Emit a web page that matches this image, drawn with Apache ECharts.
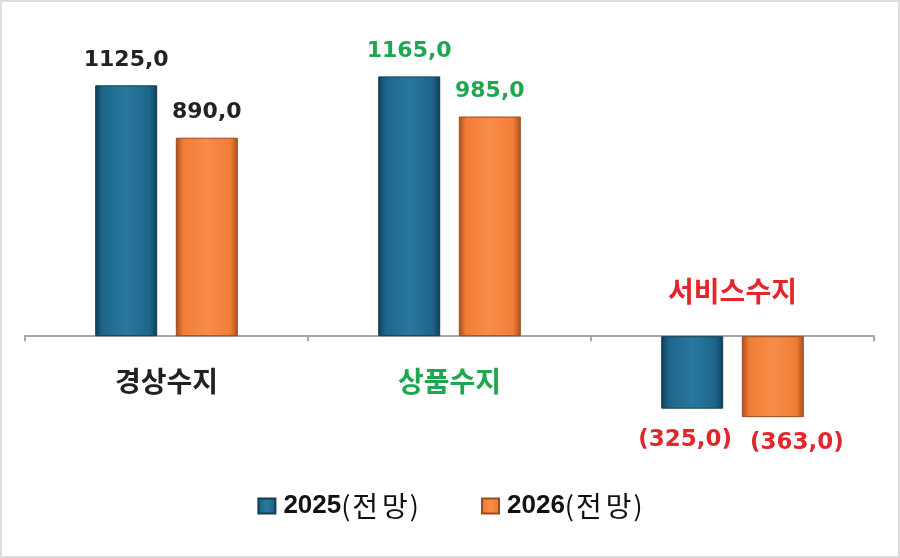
<!DOCTYPE html>
<html>
<head>
<meta charset="utf-8">
<script src="https://cdn.jsdelivr.net/npm/echarts@6/dist/echarts.min.js"></script>
<style>
    body { margin: 0; background: #fff; }
    #chart { width: 900px; height: 558px; }
    #frame { position: absolute; left: 0; top: 0; width: 900px; height: 558px;
             box-sizing: border-box; border: 2px solid #dcdcdc; pointer-events: none; }
</style>
</head>
<body>
<div id="chart"></div>
<div id="frame"></div>
<script>
// Chart data
const categories = ['경상수지', '상품수지', '서비스수지'];
const seriesYears = ['2025', '2026'];
const seriesSuffix = '(전망)';
const values2025 = [1125, 1165, -325];
const values2026 = [890, 985, -363];

const textColors = ['#222222', '#1fa650', '#e3262b'];
const krFont = '"Noto Sans CJK KR", "Noto Sans", sans-serif';
const numFont = '"DejaVu Sans", Verdana, sans-serif';

function fmt(v) {
    const s = Math.abs(v).toFixed(1).replace('.', ',');
    return v < 0 ? '(' + s + ')' : s;
}

function barColor(dark, main, light) {
    return new echarts.graphic.LinearGradient(0, 0, 1, 0, [
        { offset: 0, color: dark },
        { offset: 0.12, color: main },
        { offset: 0.5, color: light },
        { offset: 0.88, color: main },
        { offset: 1, color: dark }
    ]);
}

const rich = {};
textColors.forEach((c, i) => {
    rich['c' + i] = { color: c, fontFamily: numFont, fontSize: i === 2 ? 23 : 22, fontWeight: 'bold' };
});

function buildData(values, negOffset) {
    return values.map(v => ({
        value: v,
        label: v < 0
            ? { position: 'bottom', distance: 16, offset: negOffset }
            : { position: 'top', distance: 14 }
    }));
}

function makeSeries(name, values, color, border, negOffset) {
    return {
        name: name,
        type: 'bar',
        barWidth: 62,
        barGap: '30%',
        data: buildData(values, negOffset),
        itemStyle: { color: color, borderColor: border, borderWidth: 1 },
        label: {
            show: true,
            formatter: p => '{c' + p.dataIndex + '|' + fmt(p.value) + '}',
            rich: rich
        }
    };
}

const seriesNames = seriesYears.map(y => y + seriesSuffix);
const catData = categories.map((c, i) => ({ value: c, textStyle: { color: textColors[i] } }));
const catLabel = {
    fontFamily: krFont,
    fontSize: 28,
    fontWeight: 'bold'
};

// legend text: bold year, then the hangul characters spaced out a little
function legendText(name) {
    let s = '{a|' + name.slice(0, 4) + '}';
    for (const ch of name.slice(4)) {
        s += (ch === '(' || ch === ')') ? '{p|' + ch + '}' : '{k|' + ch + '}';
    }
    return s;
}

const myChart = echarts.init(document.getElementById('chart'));

const option = {
    animation: false,
    grid: { left: 25, right: 26, top: 24, bottom: 88 },
    legend: {
        top: 487,
        left: 'center',
        icon: 'rect',
        itemWidth: 17,
        itemHeight: 15,
        itemGap: 62,
        data: seriesNames,
        formatter: legendText,
        textStyle: {
            padding: [0, 0, 0, 3],
            rich: {
                a: { fontFamily: '"Liberation Sans", Arial, sans-serif', fontSize: 26, fontWeight: 'bold', color: '#111' },
                p: { fontFamily: krFont, fontSize: 27, color: '#111' },
                k: { fontFamily: krFont, fontSize: 28, color: '#111', padding: [0, 2, 0, 2] }
            }
        }
    },
    xAxis: [{
        type: 'category',
        data: catData,
        axisLine: { onZero: true, lineStyle: { color: '#a6a6a6', width: 2 } },
        axisTick: { show: true, length: 5, lineStyle: { color: '#a6a6a6', width: 2 } },
        axisLabel: Object.assign({
            margin: -103,
            formatter: (v, i) => (values2025[i] < 0 ? '' : v)
        }, catLabel)
    }, {
        // labels for categories whose bars go below zero sit above the axis
        type: 'category',
        position: 'bottom',
        offset: -193,
        data: catData,
        axisLine: { show: false, onZero: false },
        axisTick: { show: false },
        axisLabel: Object.assign({
            margin: 0,
            formatter: (v, i) => (values2025[i] < 0 ? v : '')
        }, catLabel)
    }],
    yAxis: {
        type: 'value',
        min: -600,
        max: 1400,
        show: false,
        splitLine: { show: false }
    },
    series: [
        makeSeries(seriesNames[0], values2025, barColor('#0f3f58', '#1d6589', '#2a78a0'), '#123d52', [-7, 4]),
        makeSeries(seriesNames[1], values2026, barColor('#a9501e', '#f27c36', '#f78c48'), '#9c4a1c', [24, -2])
    ]
};

myChart.setOption(option);
</script>
</body>
</html>
